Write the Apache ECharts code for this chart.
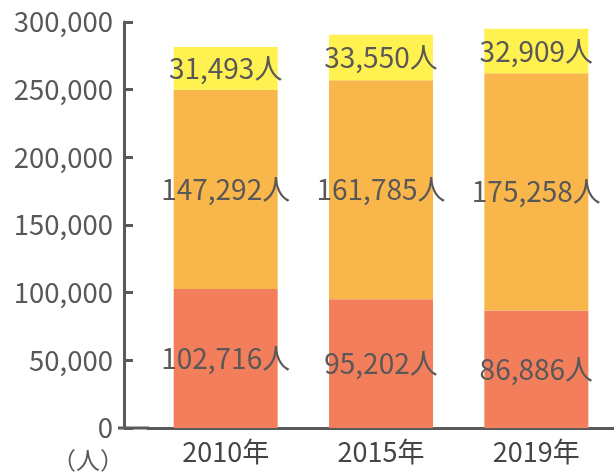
<!DOCTYPE html>
<html lang="ja">
<head>
    <meta charset="utf-8">
    <title>人数の推移</title>
    <script src="https://cdn.jsdelivr.net/npm/echarts@6/dist/echarts.min.js"></script>
    <style>
        html, body { margin: 0; padding: 0; background: #ffffff; }
    </style>
</head>
<body>

<div id="main" style="width: 614px;height:472px;"></div>

<script type="text/javascript">

    // data
    var years = ['2010年', '2015年', '2019年'];
    var bottomVals = [102716, 95202, 86886];
    var middleVals = [147292, 161785, 175258];
    var topVals = [31493, 33550, 32909];
    var yTicks = [0, 50000, 100000, 150000, 200000, 250000, 300000];

    var textColor = '#595757';
    var axisColor = '#5a5a5a';
    var font = '"Noto Sans CJK JP", "Noto Sans", sans-serif';

    function fmt(v) {
        return v.toLocaleString('en-US');
    }

    function makeSeries(vals, color) {
        return {
            type: 'bar',
            stack: 'total',
            barWidth: 104,
            data: vals,
            itemStyle: { color: color },
            label: {
                show: true,
                position: 'inside',
                color: textColor,
                fontFamily: font,
                fontSize: 28,
                formatter: function (p) { return fmt(p.value) + '人'; }
            },
            silent: true
        };
    }

    var myChart = echarts.init(document.getElementById('main'));

    var option = {
        animation: false,
        backgroundColor: '#ffffff',
        grid: {
            left: 148,
            right: -6,
            top: 22,
            bottom: 44
        },
        xAxis: {
            type: 'category',
            data: years,
            axisLine: { lineStyle: { color: axisColor, width: 3 } },
            axisTick: { inside: true, length: 9, lineStyle: { color: axisColor, width: 3 } },
            axisLabel: { color: '#454545', fontFamily: font, fontSize: 27, margin: 10 }
        },
        yAxis: {
            type: 'value',
            min: yTicks[0],
            max: yTicks[yTicks.length - 1],
            interval: yTicks[1] - yTicks[0],
            offset: 24,
            name: '（人）',
            nameLocation: 'start',
            nameGap: 20,
            nameTextStyle: { color: textColor, fontFamily: font, fontSize: 24, align: 'right' },
            axisLine: { show: true, lineStyle: { color: axisColor, width: 3 } },
            axisTick: { show: true, inside: true, length: 9, lineStyle: { color: axisColor, width: 3 } },
            splitLine: { show: false },
            axisLabel: {
                color: textColor,
                fontFamily: font,
                fontSize: 27.5,
                margin: 11,
                formatter: function (v) { return fmt(v); }
            }
        },
        // short piece of x axis between the offset y axis and the grid
        graphic: [{
            type: 'line',
            shape: { x1: 118, y1: 428, x2: 149, y2: 428 },
            style: { stroke: axisColor, lineWidth: 3 },
            z: 10
        }],
        series: [
            makeSeries(bottomVals, '#f27e5c'),
            makeSeries(middleVals, '#f9b74b'),
            makeSeries(topVals, '#fef150')
        ]
    };

    myChart.setOption(option);

</script>

</body>
</html>
